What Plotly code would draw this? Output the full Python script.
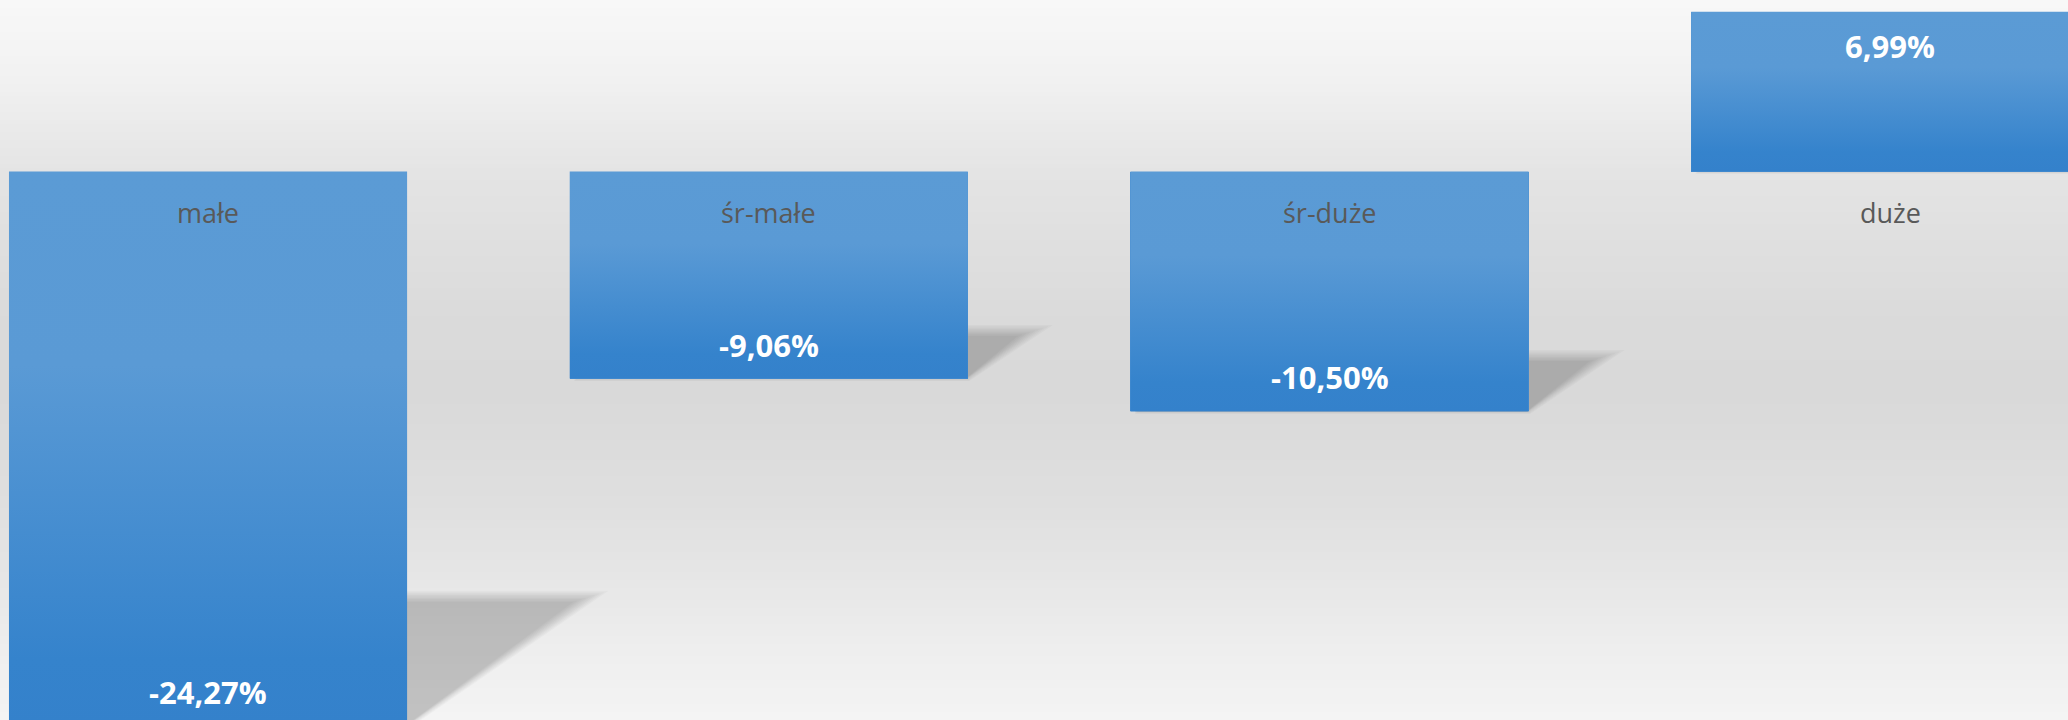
import numpy as np
import plotly.graph_objects as go

# ---- data ----
categories = ["małe", "śr-małe", "śr-duże", "duże"]
values = [-24.27, -9.06, -10.50, 6.99]
value_labels = ["-24,27%", "-9,06%", "-10,50%", "6,99%"]

# ---- layout constants (style) ----
W, H = 2068, 720
X_RANGE = [-0.371, 3.317]
Y_RANGE = [-24.0, 7.505]
BAR_W = 0.71
KX = W / (X_RANGE[1] - X_RANGE[0])   # px per x unit
KY = H / (Y_RANGE[1] - Y_RANGE[0])   # px per y unit

x_pos = list(range(len(categories)))

fig = go.Figure()

# ---- background vertical gradient (paper bands) ----
bg_stops = [(0.0, 248), (0.1, 242), (0.24, 228), (0.45, 218), (0.55, 217),
            (0.7, 223), (0.8, 230), (0.9, 238), (1.0, 244)]
bt = [s[0] for s in bg_stops]
bv = [s[1] for s in bg_stops]
shapes = []
NB = 180
for k in range(NB):
    t0, t1 = k / NB, (k + 1) / NB
    g = int(round(np.interp((t0 + t1) / 2, bt, bv)))
    shapes.append(dict(type="rect", xref="paper", yref="paper", x0=0, x1=1,
                       y0=1 - t1 - 0.0008, y1=1 - t0, fillcolor=f"rgb({g},{g},{g})",
                       line=dict(width=0), layer="below"))

# ---- perspective shadows (soft, layered) ----
for i, v in zip(x_pos, values):
    h_px = abs(v) * KY
    hs = 0.235 * h_px
    s = 0.335 * h_px
    slope = s / hs
    ln = np.hypot(s, hs)
    yb = min(v, 0.0)
    L, R = i - BAR_W / 2, i + BAR_W / 2
    for d in np.linspace(-6, 5, 9):
        e = d * ln / hs
        dd = max(d, 0) * 0.5
        ybot = yb - dd / KY
        ytop = yb + (hs + d) / KY
        bl = (L + 4 / KX, ybot)
        br = (R + (e - d * slope) / KX, ybot)
        tr = (R + (e + (hs + d) * slope) / KX, ytop)
        tl = (L + 4 / KX + ((hs + d) * slope) / KX, ytop)
        path = "M {} {} L {} {} L {} {} L {} {} Z".format(*bl, *br, *tr, *tl)
        shapes.append(dict(type="path", xref="x", yref="y", path=path,
                           fillcolor="rgba(0,0,0,0.022)", line=dict(width=0), layer="below"))

# ---- bars ----
fig.add_trace(go.Bar(x=x_pos, y=values, width=BAR_W, marker=dict(color="#4a8fd1", line=dict(width=0)),
                     hoverinfo="skip", showlegend=False))

# gradient overlay on each bar
bar_scale = [[0.0, "#3481cb"], [0.12, "#3583cc"], [0.65, "#5a9ad5"], [1.0, "#5b9bd5"]]
for i, v in zip(x_pos, values):
    L, R = i - BAR_W / 2, i + BAR_W / 2
    fig.add_trace(go.Scatter(
        x=[L, R, R, L, L], y=[0, 0, v, v, 0], mode="lines", line=dict(width=0),
        fill="toself", fillcolor="#4a8fd1",
        fillgradient=dict(type="vertical", colorscale=bar_scale, start=min(v, 0), stop=max(v, 0)),
        hoverinfo="skip", showlegend=False))

# ---- labels ----
annotations = []
for i, (c, v, lab) in enumerate(zip(categories, values, value_labels)):
    annotations.append(dict(x=i, y=0, xref="x", yref="y", text=c, showarrow=False,
                            yshift=-41, yanchor="middle",
                            font=dict(family="Open Sans", size=27, color="#595959")))
    annotations.append(dict(x=i, y=v - np.sign(v) * 34 / KY, xref="x", yref="y", text=lab,
                            showarrow=False, yanchor="middle",
                            font=dict(family="Open Sans", size=31, color="#ffffff", weight="bold")))

fig.update_layout(
    width=W, height=H, margin=dict(l=0, r=0, t=0, b=0, pad=0),
    paper_bgcolor="#e6e6e6", plot_bgcolor="rgba(0,0,0,0)",
    showlegend=False, shapes=shapes, annotations=annotations, bargap=0,
    xaxis=dict(range=X_RANGE, showgrid=False, zeroline=False, showticklabels=False,
               showline=False, ticks="", fixedrange=True),
    yaxis=dict(range=Y_RANGE, showgrid=False, zeroline=False, showticklabels=False,
               showline=False, ticks="", fixedrange=True),
    hovermode=False,
)

fig.write_html("out.html", config={"displayModeBar": False},
               post_script="document.body.style.margin='0';document.body.style.overflow='hidden';")
